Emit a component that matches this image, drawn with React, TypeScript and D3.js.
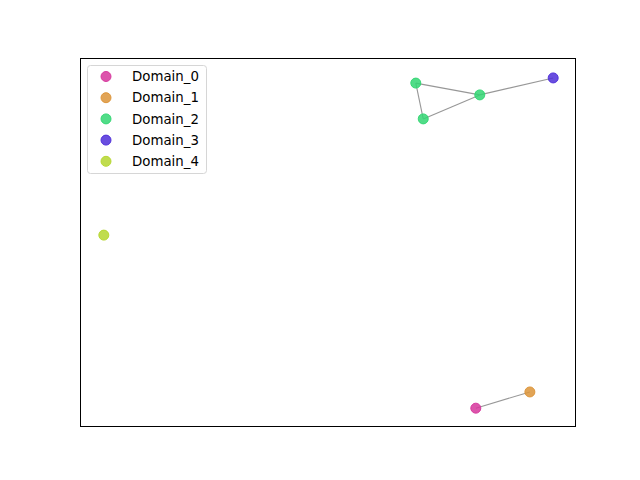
import React from "react";
import * as d3 from "d3";

const domains = ["Domain_0", "Domain_1", "Domain_2", "Domain_3", "Domain_4"];
const colors = ["#d6369c", "#dc9438", "#33d673", "#4f2fd9", "#b5d62f"];

const nodeIds = ["a", "b", "c", "d", "e", "f", "g"];
const nodeDomain = [0, 1, 2, 2, 2, 3, 4];
const nodeX = [79.8, 90.7, 67.7, 80.6, 69.2, 95.4, 4.8];
const nodeY = [5.1, 9.5, 93.2, 90.0, 83.5, 94.6, 52.0];

const edgeSource = ["a", "c", "c", "d", "d"];
const edgeTarget = ["b", "d", "e", "e", "f"];

export default function App() {
  const W = 640, H = 480;
  const L = 80, R = 576, T = 58, B = 427;
  const x = d3.scaleLinear().domain([0, 100]).range([L, R]);
  const y = d3.scaleLinear().domain([0, 100]).range([B, T]);
  const idx = (id: string) => nodeIds.indexOf(id);
  const legendY0 = 76.5;
  const legendStep = 21.2;
  return (
    <svg width={W} height={H} style={{ position: "absolute", left: 0, top: 0 }}>
      <rect x={0} y={0} width={W} height={H} fill="#fff" />
      {edgeSource.map((s, i) => {
        const a = idx(s), b = idx(edgeTarget[i]);
        return (
          <line key={i} x1={x(nodeX[a])} y1={y(nodeY[a])} x2={x(nodeX[b])} y2={y(nodeY[b])}
            stroke="#8c8c8c" strokeOpacity={0.9} strokeWidth={1.1} />
        );
      })}
      {nodeIds.map((id, i) => (
        <circle key={id} cx={x(nodeX[i])} cy={y(nodeY[i])} r={5}
          fill={colors[nodeDomain[i]]} fillOpacity={0.85}
          stroke={colors[nodeDomain[i]]} strokeOpacity={0.95} strokeWidth={1} />
      ))}
      <rect x={L + 0.5} y={T + 0.5} width={R - L - 1} height={B - T - 1} fill="none" stroke="#000" strokeWidth={1} />
      <rect x={87.5} y={65.5} width={119} height={108} rx={3} fill="#fff" fillOpacity={0.8} stroke="#d6d6d6" strokeWidth={1} />
      {domains.map((d, i) => (
        <g key={d}>
          <circle cx={106} cy={legendY0 + i * legendStep} r={5} fill={colors[i]} fillOpacity={0.85}
            stroke={colors[i]} strokeOpacity={0.95} strokeWidth={1} />
          <text x={132} y={legendY0 + i * legendStep + 4.7} fontFamily="DejaVu Sans" fontSize={13.33} fill="#000">{d}</text>
        </g>
      ))}
    </svg>
  );
}
